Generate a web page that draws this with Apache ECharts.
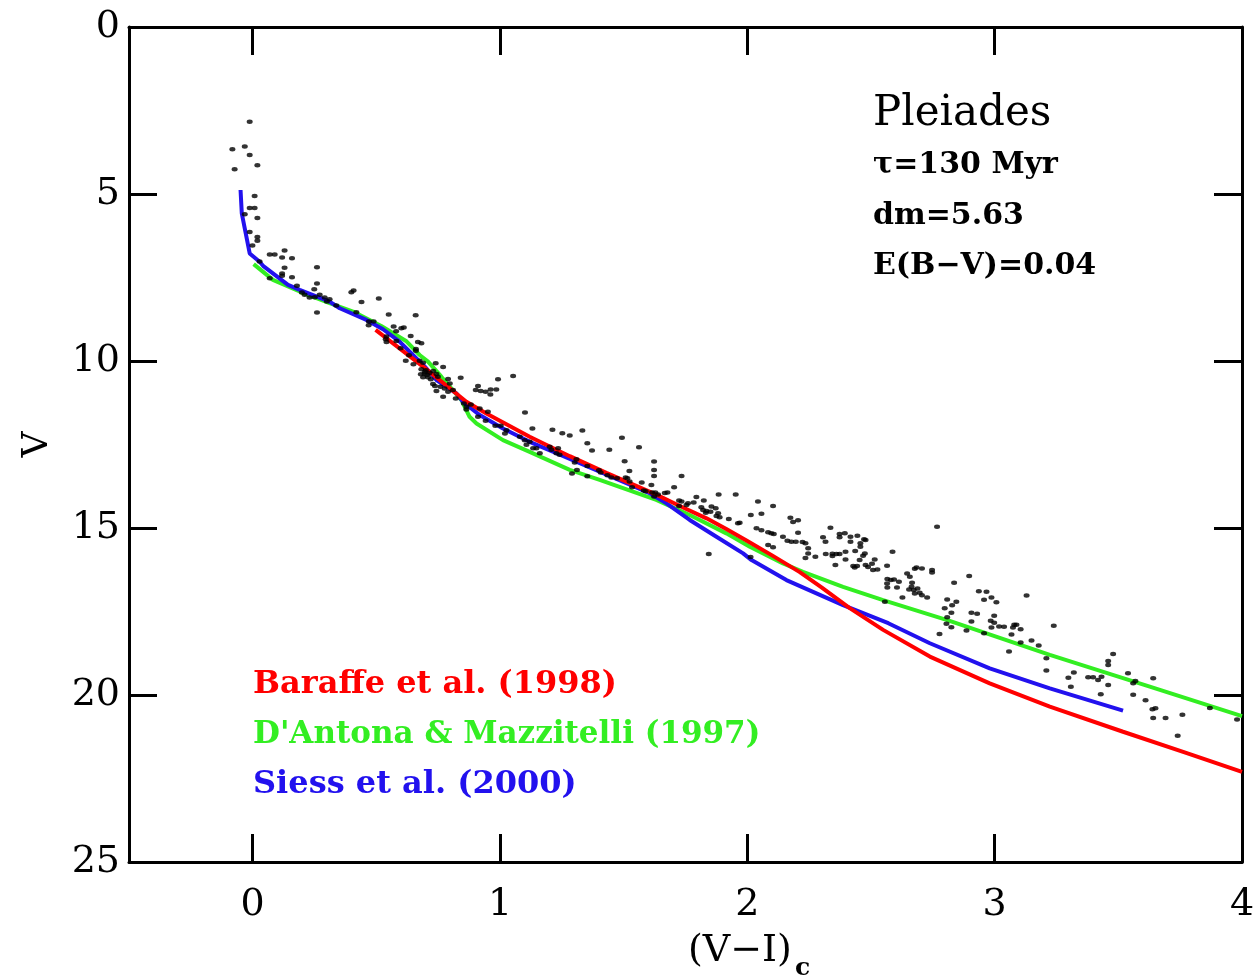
<!DOCTYPE html>
<html>
<head>
<meta charset="utf-8">
<script src="https://cdn.jsdelivr.net/npm/echarts@6/dist/echarts.min.js"></script>
<style>html,body{margin:0;padding:0;background:#fff}#c{width:1256px;height:976px}</style>
</head>
<body>
<div id="c"></div>
<script>
// ---- data ----
const xTicks = [0, 1, 2, 3, 4];
const yTicks = [0, 5, 10, 15, 20, 25];

const stars = [
[-0.012,2.84],[-0.082,3.66],[-0.032,3.58],[-0.012,3.83],[0.019,4.14],[-0.073,4.26],[0.008,5.06],[-0.012,5.42],[0.008,5.42],[-0.032,5.61],[0.019,5.72],[-0.012,6.14],[0.019,6.29],[0.019,6.40],[-0.001,6.54],[0.028,7.02],[0.069,6.81],[0.089,6.81],[0.129,6.69],[0.119,6.90],[0.159,6.92],[0.129,7.21],[0.119,7.38],[0.119,7.45],[0.069,7.52],[0.159,7.49],[0.260,7.19],[0.260,7.68],[0.179,7.75],[0.249,7.85],[0.199,7.95],[0.210,8.02],[0.230,8.10],[0.251,8.09],[0.271,8.02],[0.291,8.10],[0.311,8.15],[0.300,8.22],[0.260,8.55],[0.338,8.34],[0.399,7.94],[0.408,7.89],[0.440,8.23],[0.510,8.13],[0.419,8.54],[0.470,8.82],[0.489,8.82],[0.469,8.93],[0.550,8.61],[0.570,8.97],[0.601,9.02],[0.611,9.00],[0.659,8.63],
[0.580,9.11],[0.639,9.25],[0.541,9.27],[0.541,9.43],[0.581,9.40],[0.538,9.35],[0.668,9.43],[0.682,9.47],[0.598,9.62],[0.660,9.64],[0.660,9.69],[0.632,9.83],[0.619,9.99],[0.650,10.10],[0.675,9.99],[0.689,10.05],[0.740,10.07],[0.770,10.18],[0.682,10.25],[0.696,10.32],[0.705,10.42],[0.689,10.49],[0.709,10.49],[0.743,10.39],[0.749,10.47],[0.790,10.54],[0.841,10.50],[0.729,10.69],[0.737,10.75],[0.759,10.77],[0.776,10.82],[0.797,10.67],[0.743,10.90],[0.790,10.92],[0.810,10.87],[0.770,11.07],[0.821,11.12],[0.854,11.27],[0.864,11.37],[0.864,11.45],[0.882,11.30],[0.902,10.87],[0.911,10.75],[0.922,10.90],[0.942,10.92],[0.962,10.85],[0.985,10.85],[0.961,11.00],[0.992,10.55],[1.053,10.45],[0.911,11.67],[0.942,11.79],[0.918,11.42],[0.951,11.52],[0.981,11.94],[1.003,11.94],[1.026,12.07],[1.020,12.17],[1.101,11.54],[1.131,12.02],[1.080,12.27],[1.100,12.37],[1.120,12.42],[1.107,12.51],[1.134,12.61],[1.147,12.61],[1.161,12.76],[1.212,12.06],[1.252,12.16],[1.201,12.57],[1.208,12.66],[1.235,12.61],[1.241,12.81],[1.228,12.76],
[0.695,10.38],[0.715,10.36],[0.700,10.28],[0.720,10.55],[0.680,10.40],[0.730,10.30],
[1.282,12.23],[1.333,12.08],[1.353,12.46],[1.372,12.68],[1.309,12.94],[1.302,13.04],[1.291,13.37],[1.311,13.26],[1.353,13.14],[1.353,13.45],[1.400,13.27],[1.407,13.34],[1.434,13.42],[1.450,13.49],[1.473,13.51],[1.442,12.66],[1.493,12.30],[1.504,13.00],[1.508,13.49],[1.515,13.51],[1.523,13.29],[1.524,13.61],[1.562,12.58],[1.534,13.78],[1.573,13.64],[1.581,13.88],[1.589,13.90],[1.612,13.71],[1.623,13.01],[1.623,13.26],[1.623,13.44],[1.615,13.94],[1.628,13.94],[1.639,14.00],[1.623,14.06],[1.666,13.95],[1.677,13.94],[1.704,13.78],[1.734,13.44],[1.724,14.18],[1.734,14.21],[1.724,14.34],[1.754,14.31],[1.760,14.26],[1.794,14.07],[1.783,14.24],[1.824,14.18],[1.884,14.00],[1.953,14.00],[1.814,14.38],[1.821,14.46],[1.835,14.49],[1.832,14.54],[1.851,14.51],[1.855,14.36],[1.872,14.41],[1.882,14.56],[1.888,14.68],[1.875,14.64],[1.925,14.73],[1.969,14.84],[1.962,14.86],[2.014,14.61],[2.043,14.21],[2.037,15.01],[1.844,15.78],[2.013,15.87],
[2.057,14.57],[2.104,14.34],[2.057,15.07],[2.084,15.13],[2.097,15.16],[2.107,15.18],[2.084,15.51],[2.104,15.58],[2.144,15.26],[2.162,15.38],[2.178,15.41],[2.196,15.41],[2.174,14.69],[2.185,14.82],[2.205,14.77],[2.205,15.14],[2.223,15.42],[2.235,15.46],[2.246,15.61],[2.246,15.76],[2.235,15.90],[2.275,15.86],[2.336,14.99],[2.306,15.28],[2.316,15.41],[2.317,15.78],[2.344,15.84],[2.344,15.77],[2.360,15.78],[2.373,15.78],[2.356,16.11],[2.373,15.18],[2.394,15.16],[2.373,15.28],[2.417,15.26],[2.417,15.41],[2.397,15.71],[2.397,15.94],[2.436,15.69],[2.428,16.14],[2.444,16.14],[2.434,16.18],[2.445,15.23],[2.472,15.34],[2.478,15.36],[2.457,15.46],[2.457,15.56],[2.454,15.96],[2.475,15.76],[2.468,15.83],[2.478,16.11],[2.488,16.17],[2.504,16.07],[2.515,15.94],[2.508,16.26],[2.526,16.24],[2.587,15.71],[2.565,16.13],[2.556,17.21],[2.566,16.53],[2.580,16.56],[2.593,16.54],[2.565,16.66],[2.566,16.78],[2.605,16.78],[2.613,16.61],[2.627,17.08],[2.646,16.36],[2.677,16.22],[2.684,16.18],[2.706,16.21],[2.657,16.46],[2.666,16.64],[2.664,16.76],[2.654,16.84],[2.673,16.86],[2.688,16.81],[2.677,16.96],[2.697,16.94],[2.706,17.01],[2.727,17.08],[2.747,16.26],[2.747,16.33],[2.767,14.96],[2.836,16.64],[2.808,17.14],[2.845,17.21],[2.798,17.40],[2.828,17.31],[2.825,17.54],[2.808,17.67],[2.805,17.87],[2.825,17.97],[2.777,18.17],[2.886,18.07],
[2.897,16.44],[2.936,16.89],[2.967,16.91],[2.957,17.15],[2.987,17.08],[3.007,17.22],[3.129,17.02],[2.906,17.54],[2.929,17.57],[2.906,17.80],[2.957,18.15],[2.998,17.63],[2.984,17.78],[2.998,17.84],[2.987,17.98],[3.018,17.95],[3.038,17.96],[3.068,18.19],[3.079,17.90],[3.088,17.90],[3.074,17.98],[3.105,18.03],[3.105,18.43],[3.058,18.70],[3.149,18.37],[3.178,18.52],[3.209,18.90],[3.209,19.27],[3.239,17.93],[3.298,19.48],[3.320,19.33],[3.308,19.75],[3.378,19.47],[3.398,19.47],[3.418,19.55],[3.432,19.45],[3.429,19.98],[3.459,19.70],[3.459,18.98],[3.459,19.10],[3.479,18.77],[3.539,19.35],[3.560,19.65],[3.569,19.58],[3.560,19.99],[3.610,20.16],[3.641,19.50],[3.638,20.43],[3.650,20.40],[3.641,20.69],[3.691,20.69],[3.759,20.59],[3.740,21.22],[3.870,20.39],[3.980,20.73]
];

const baraffe = [[0.497,9.07],[0.594,9.62],[0.689,10.17],[0.864,11.22],[0.945,11.57],[1.120,12.27],[1.282,12.85],[1.430,13.35],[1.632,14.00],[1.727,14.34],[1.835,14.71],[1.915,15.03],[2.0,15.39],[2.10,15.82],[2.212,16.32],[2.30,16.78],[2.414,17.40],[2.549,18.05],[2.738,18.85],[2.980,19.65],[3.223,20.35],[3.519,21.10],[3.762,21.70],[4.0,22.3]];

const dantona = [[0.004,7.10],[0.082,7.57],[0.190,7.92],[0.311,8.27],[0.406,8.52],[0.52,8.95],[0.62,9.40],[0.675,9.82],[0.709,10.02],[0.763,10.47],[0.844,11.17],[0.877,11.67],[0.905,11.87],[1.012,12.37],[1.120,12.72],[1.282,13.26],[1.403,13.56],[1.632,14.16],[1.767,14.61],[1.915,15.16],[2.010,15.56],[2.144,16.06],[2.225,16.31],[2.387,16.76],[2.549,17.16],[2.818,17.78],[3.223,18.80],[3.627,19.75],[4.0,20.63]];

const siess = [[-0.049,4.88],[-0.044,5.58],[-0.012,6.78],[0.028,7.03],[0.042,7.15],[0.143,7.72],[0.190,7.87],[0.311,8.22],[0.352,8.42],[0.460,8.77],[0.527,9.05],[0.594,9.42],[0.628,9.67],[0.696,10.17],[0.743,10.57],[0.824,10.97],[0.850,11.22],[0.918,11.62],[1.012,12.02],[1.120,12.42],[1.228,12.76],[1.403,13.31],[1.605,13.96],[1.673,14.26],[1.767,14.76],[1.875,15.26],[1.983,15.76],[2.017,15.96],[2.158,16.56],[2.387,17.31],[2.570,17.85],[2.738,18.45],[2.980,19.20],[3.223,19.80],[3.519,20.47]];

const legendLabels = ['Baraffe et al. (1998)', "D'Antona & Mazzitelli (1997)", 'Siess et al. (2000)'];
const infoLines = ['Pleiades', 'τ=130 Myr', 'dm=5.63', 'E(B−V)=0.04'];

// ---- chart ----
const FONT = 'DejaVu Serif';
const RED = '#ff0000', GREEN = '#33ee22', BLUE = '#2211ee';
const chart = echarts.init(document.getElementById('c'), null, {renderer: 'canvas'});

const axisLine = {show: true, onZero: false, lineStyle: {color: '#000', width: 3}};
const tick = (vals) => ({show: true, inside: true, length: 28, customValues: vals, lineStyle: {color: '#000', width: 3}});

chart.setOption({
  animation: false,
  backgroundColor: '#fff',
  grid: {left: 129, right: 14, top: 27, bottom: 114, containLabel: false, outerBoundsMode: 'none'},
  xAxis: [
    {type: 'value', position: 'bottom', min: -0.5, max: 4, interval: 0.5,
     axisLine: axisLine, axisTick: tick(xTicks), splitLine: {show: false},
     axisLabel: {customValues: xTicks, margin: 24, fontSize: 38, color: '#000', fontFamily: FONT}},
    {type: 'value', position: 'top', min: -0.5, max: 4, interval: 0.5,
     axisLine: axisLine, axisTick: tick(xTicks), axisLabel: {show: false}, splitLine: {show: false}}
  ],
  yAxis: [
    {type: 'value', position: 'left', inverse: true, min: 0, max: 25, interval: 5,
     axisLine: axisLine, axisTick: tick(yTicks), splitLine: {show: false},
     axisLabel: {customValues: yTicks, margin: 9, fontSize: 38, color: '#000', fontFamily: FONT},
     name: 'V', nameLocation: 'middle', nameGap: 73, nameRotate: 90,
     nameTextStyle: {fontSize: 36, color: '#000', fontFamily: FONT}},
    {type: 'value', position: 'right', inverse: true, min: 0, max: 25, interval: 5,
     axisLine: axisLine, axisTick: tick(yTicks), axisLabel: {show: false}, splitLine: {show: false}}
  ],
  series: [
    {type: 'line', data: dantona, showSymbol: false, symbol: 'none', lineStyle: {color: GREEN, width: 4}, z: 3},
    {type: 'line', data: siess, showSymbol: false, symbol: 'none', lineStyle: {color: BLUE, width: 4}, z: 4},
    {type: 'line', data: baraffe, showSymbol: false, symbol: 'none', lineStyle: {color: RED, width: 4}, z: 5},
    {type: 'scatter', data: stars, symbol: 'circle', symbolSize: [6, 4.5], itemStyle: {color: '#000'}, z: 6}
  ],
  graphic: [
    {type: 'text', left: 688, top: 932, style: {text: '(V−I)', fontSize: 38, fill: '#000', fontFamily: FONT}},
    {type: 'text', left: 795, top: 956, style: {text: 'c', fontSize: 25, fill: '#000', fontFamily: FONT, fontWeight: 'bold'}},
    {type: 'text', left: 873, top: 93, style: {text: infoLines[0], fontSize: 42, fill: '#000', fontFamily: FONT}},
    {type: 'text', left: 873, top: 150, style: {text: infoLines[1], fontSize: 30, fill: '#000', fontFamily: FONT, fontWeight: 'bold'}},
    {type: 'text', left: 873, top: 201, style: {text: infoLines[2], fontSize: 30, fill: '#000', fontFamily: FONT, fontWeight: 'bold'}},
    {type: 'text', left: 873, top: 251, style: {text: infoLines[3], fontSize: 30, fill: '#000', fontFamily: FONT, fontWeight: 'bold'}},
    {type: 'text', left: 253, top: 669, style: {text: legendLabels[0], fontSize: 32, fill: RED, fontFamily: FONT, fontWeight: 'bold'}},
    {type: 'text', left: 253, top: 719, style: {text: legendLabels[1], fontSize: 31, fill: GREEN, fontFamily: FONT, fontWeight: 'bold'}},
    {type: 'text', left: 253, top: 769, style: {text: legendLabels[2], fontSize: 32, fill: BLUE, fontFamily: FONT, fontWeight: 'bold'}}
  ]
});
</script>
</body>
</html>
